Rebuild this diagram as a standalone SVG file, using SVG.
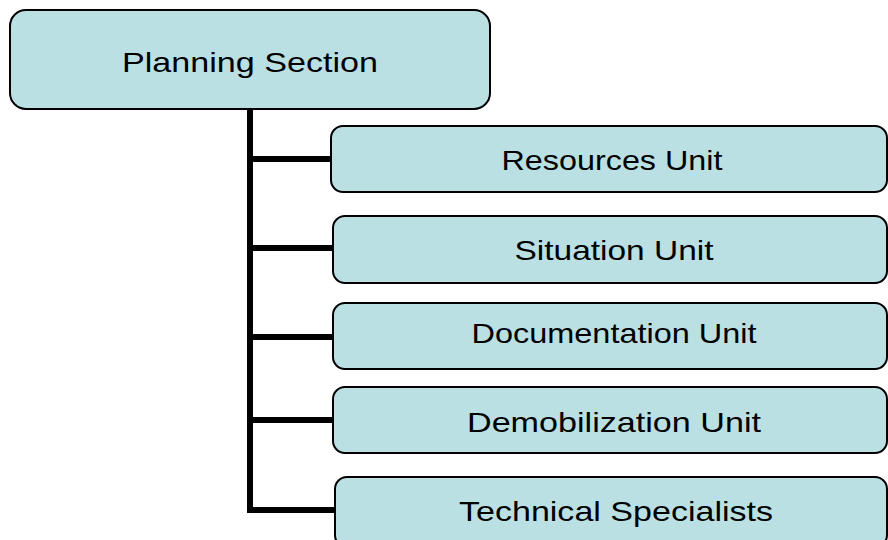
<svg xmlns="http://www.w3.org/2000/svg" width="888" height="540" viewBox="0 0 888 540">
<style>
.box{fill:#bae0e3;stroke:#000;stroke-width:2}
.lbl{font-family:"Liberation Sans",Arial,sans-serif;font-size:28px;fill:#000;text-anchor:middle;dominant-baseline:central}
.conn{stroke:#000;stroke-width:6;fill:none}
</style>
<rect width="888" height="540" fill="#fff"/>
<g id="connectors">
<path class="conn" d="M250 109V513"/>
<path class="conn" d="M250 159H331"/>
<path class="conn" d="M250 248H333"/>
<path class="conn" d="M250 337H333"/>
<path class="conn" d="M250 420H333"/>
<path class="conn" d="M247 510H335"/>
</g>
<g id="planning">
<rect class="box" x="10" y="10" width="480" height="99" rx="16"/>
<text class="lbl" x="250" y="62" textLength="256" lengthAdjust="spacingAndGlyphs">Planning Section</text>
</g>
<g id="resources">
<rect class="box" x="331" y="126" width="556" height="66" rx="12"/>
<text class="lbl" x="612" y="160" textLength="221" lengthAdjust="spacingAndGlyphs">Resources Unit</text>
</g>
<g id="situation">
<rect class="box" x="333" y="216" width="554" height="67" rx="12"/>
<text class="lbl" x="614" y="250" textLength="199" lengthAdjust="spacingAndGlyphs">Situation Unit</text>
</g>
<g id="documentation">
<rect class="box" x="333" y="303" width="554" height="66" rx="12"/>
<text class="lbl" x="614" y="333" textLength="285" lengthAdjust="spacingAndGlyphs">Documentation Unit</text>
</g>
<g id="demobilization">
<rect class="box" x="333" y="387" width="554" height="66" rx="12"/>
<text class="lbl" x="614" y="422" textLength="294" lengthAdjust="spacingAndGlyphs">Demobilization Unit</text>
</g>
<g id="technical">
<rect class="box" x="335" y="477" width="552" height="70" rx="12"/>
<text class="lbl" x="616" y="511" textLength="314" lengthAdjust="spacingAndGlyphs">Technical Specialists</text>
</g>
</svg>
